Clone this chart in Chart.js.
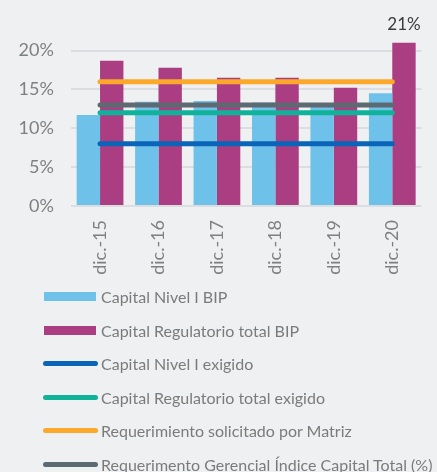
<!DOCTYPE html>
<html lang="es">
<head>
<meta charset="utf-8">
<title>Indicadores de capital</title>
<script src="https://cdn.jsdelivr.net/npm/chart.js@4/dist/chart.umd.min.js"></script>
<style>
  html, body { margin: 0; padding: 0; background: #eff0f2; }
  #wrap { position: relative; width: 437px; height: 472px; overflow: hidden; }
  #grafico { position: absolute; left: 0; top: 0; }
  #leyenda {
    position: absolute; left: 43px; top: 280px; margin: 0; padding: 0; list-style: none;
    font-family: Lato, sans-serif; font-size: 16px; color: #7b7b7b; white-space: nowrap;
  }
  #leyenda li { display: flex; align-items: center; height: 33.5px; }
  #leyenda .muestra { position: relative; width: 58px; height: 10px; flex: none; }
  #leyenda .barra { position: absolute; left: 1px; top: 0.5px; width: 52px; height: 9px; }
  #leyenda .linea { position: absolute; left: 0; top: 2.5px; width: 55px; height: 5px; border-radius: 3px; }
</style>
</head>
<body>
<div id="wrap">
  <canvas id="grafico" width="437" height="472"></canvas>
  <ul id="leyenda"></ul>
</div>
<script>
// Datos (%)
const periodos = ['dic.-15', 'dic.-16', 'dic.-17', 'dic.-18', 'dic.-19', 'dic.-20'];
const capitalNivel1BIP = [11.7, 13.4, 13.5, 13.3, 13.2, 14.5];
const capitalTotalBIP = [18.7, 17.8, 16.5, 16.5, 15.2, 21];
const capitalNivel1Exigido = [8, 8, 8, 8, 8, 8];
const capitalTotalExigido = [12, 12, 12, 12, 12, 12];
const requerimientoMatriz = [16, 16, 16, 16, 16, 16];
const requerimientoGerencial = [13, 13, 13, 13, 13, 13];
const ticksEjeY = [0, 5, 10, 15, 20];

const fuente = 'Lato, sans-serif';

function serieLinea(label, data, color) {
    return {
        type: 'line', label, data,
        borderColor: color, backgroundColor: color,
        borderWidth: 5, borderCapStyle: 'round',
        pointRadius: 0, pointHoverRadius: 0,
        order: 0
    };
}

// Etiqueta de valor sobre la última barra del capital total
const etiquetaValor = {
    id: 'etiquetaValor',
    afterDatasetsDraw(chart) {
        const meta = chart.getDatasetMeta(1);
        const i = capitalTotalBIP.length - 1;
        const bar = meta.data[i];
        const ctx = chart.ctx;
        ctx.save();
        ctx.font = '17px ' + fuente;
        ctx.fillStyle = '#3b3b3b';
        ctx.textAlign = 'center';
        ctx.textBaseline = 'bottom';
        ctx.fillText(Math.round(capitalTotalBIP[i]) + '%', bar.x, bar.y - 10);
        ctx.restore();
    }
};

const chart = new Chart(document.getElementById('grafico').getContext('2d'), {
    type: 'bar',
    data: {
        labels: periodos,
        datasets: [
            { label: 'Capital Nivel I BIP', data: capitalNivel1BIP, backgroundColor: '#6ec2ea', order: 1 },
            { label: 'Capital Regulatorio total BIP', data: capitalTotalBIP, backgroundColor: '#ab3e82', order: 1 },
            serieLinea('Capital Nivel I exigido', capitalNivel1Exigido, '#0a64b7'),
            serieLinea('Capital Regulatorio total exigido', capitalTotalExigido, '#10b39a'),
            serieLinea('Requerimiento solicitado por Matriz', requerimientoMatriz, '#fca82a'),
            serieLinea('Requerimento Gerencial Índice Capital Total (%)', requerimientoGerencial, '#5d6a71')
        ]
    },
    options: {
        responsive: false,
        animation: false,
        layout: { padding: { top: 35, left: 1.5, right: 15.5, bottom: 186 } },
        datasets: { bar: { barPercentage: 1, categoryPercentage: 0.8 } },
        plugins: { legend: { display: false }, tooltip: { enabled: false } },
        scales: {
            x: {
                afterFit: scale => { scale.height = 80; },
                grid: { display: false, drawTicks: false },
                border: { display: false },
                ticks: {
                    minRotation: 90, maxRotation: 90, padding: 14,
                    color: '#808080', font: { family: fuente, size: 18 }
                }
            },
            y: {
                min: 0, max: 22,
                afterBuildTicks: scale => { scale.ticks = ticksEjeY.map(v => ({ value: v })); },
                grid: { color: '#dcdde0', lineWidth: 2, drawTicks: false },
                border: { display: false },
                ticks: {
                    padding: 17, color: '#808080', font: { family: fuente, size: 18 },
                    callback: v => v + '%'
                }
            }
        }
    },
    plugins: [etiquetaValor]
});

// Leyenda en lista vertical
const leyenda = document.getElementById('leyenda');
chart.data.datasets.forEach(ds => {
    const li = document.createElement('li');
    const muestra = document.createElement('span');
    muestra.className = 'muestra';
    const marca = document.createElement('span');
    marca.className = ds.type === 'line' ? 'linea' : 'barra';
    marca.style.background = ds.backgroundColor;
    muestra.appendChild(marca);
    li.appendChild(muestra);
    li.appendChild(document.createTextNode(ds.label));
    leyenda.appendChild(li);
});
</script>
</body>
</html>
